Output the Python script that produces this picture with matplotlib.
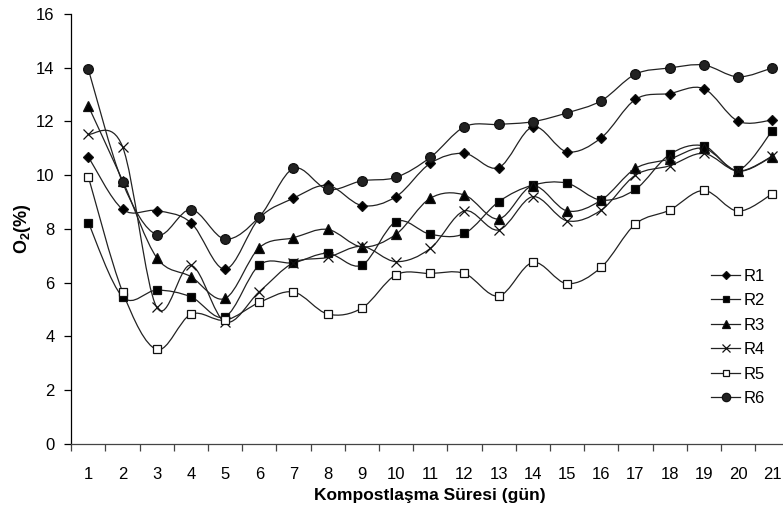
import numpy as np
import matplotlib.pyplot as plt
from matplotlib.path import Path
from matplotlib.patches import PathPatch
from matplotlib.lines import Line2D

plt.rcParams['font.family'] = ['Liberation Sans', 'DejaVu Sans']
plt.rcParams['mathtext.fontset'] = 'custom'
plt.rcParams['mathtext.bf'] = 'Liberation Sans:bold'
plt.rcParams['mathtext.rm'] = 'Liberation Sans'

days = list(range(1, 22))
R1 = [10.68, 8.73, 8.68, 8.23, 6.5, 8.4, 9.14, 9.62, 8.87, 9.2, 10.44, 10.81, 10.28, 11.8, 10.87, 11.39, 12.82, 13.04, 13.22, 12.01, 12.05]
R2 = [8.23, 5.47, 5.72, 5.47, 4.73, 6.65, 6.74, 7.09, 6.65, 8.27, 7.8, 7.83, 9.01, 9.63, 9.7, 9.07, 9.47, 10.77, 11.09, 10.19, 11.65]
R3 = [12.57, 9.8, 6.93, 6.22, 5.41, 7.3, 7.67, 7.98, 7.33, 7.8, 9.14, 9.26, 8.37, 9.6, 8.67, 9.07, 10.25, 10.6, 11.0, 10.15, 10.69]
R4 = [11.53, 11.06, 5.08, 6.65, 4.54, 5.66, 6.74, 6.94, 7.35, 6.78, 7.27, 8.67, 7.96, 9.2, 8.3, 8.7, 10.0, 10.35, 10.81, 10.15, 10.7]
R5 = [9.94, 5.66, 3.51, 4.82, 4.6, 5.26, 5.65, 4.83, 5.05, 6.29, 6.34, 6.34, 5.5, 6.75, 5.96, 6.57, 8.18, 8.7, 9.43, 8.66, 9.3]
R6 = [13.94, 9.73, 7.78, 8.72, 7.62, 8.45, 10.25, 9.47, 9.79, 9.92, 10.66, 11.8, 11.89, 11.99, 12.32, 12.77, 13.76, 13.99, 14.1, 13.66, 13.99]

names = ['R1', 'R2', 'R3', 'R4', 'R5', 'R6']
series = [R1, R2, R3, R4, R5, R6]
markers = ['D', 's', '^', 'x', 's', 'o']
msizes = [5, 6, 7, 7, 6, 7]
faces = ['black', 'black', 'black', 'black', 'white', '#222222']


def smooth_path(x, y):
    # excel-like smoothed line: cubic bezier segments, catmull-rom tangents
    x = np.asarray(x, float)
    y = np.asarray(y, float)
    verts = [(x[0], y[0])]
    codes = [Path.MOVETO]
    n = len(x)
    for i in range(n - 1):
        p0 = i - 1 if i > 0 else i
        p3 = i + 2 if i + 2 < n else i + 1
        c1 = (x[i] + (x[i + 1] - x[p0]) / 6, y[i] + (y[i + 1] - y[p0]) / 6)
        c2 = (x[i + 1] - (x[p3] - x[i]) / 6, y[i + 1] - (y[p3] - y[i]) / 6)
        verts += [c1, c2, (x[i + 1], y[i + 1])]
        codes += [Path.CURVE4] * 3
    return Path(verts, codes)


fig = plt.figure(figsize=(7.83, 5.19), dpi=100)
ax = fig.add_axes([0.091, 0.145, 0.917, 0.828])

handles = []
for name, s, m, ms, fc in zip(names, series, markers, msizes, faces):
    ax.add_patch(PathPatch(smooth_path(days, s), facecolor='none', edgecolor='#222222', lw=0.9, zorder=2))
    ax.plot(days, s, ls='none', marker=m, ms=ms, mfc=fc, mec='#111111', mew=0.9, zorder=3)
    handles.append(Line2D([], [], color='#222222', lw=0.9, marker=m, ms=ms - 1, mfc=fc, mec='#111111', mew=0.9))

ax.set_xlim(0.5, 21.5)
ax.set_ylim(0, 16)
ax.set_yticks(range(0, 17, 2))
ax.set_xticks(np.arange(0.5, 21.6, 1))
ax.set_xticklabels([])
ax.set_xticks(days, minor=True)
ax.set_xticklabels([str(d) for d in days], minor=True)
ax.tick_params(axis='x', which='major', direction='out', length=5, width=0.9, color='#444444')
ax.tick_params(axis='x', which='minor', length=0, pad=17, labelsize=12)
ax.tick_params(axis='y', direction='out', length=5, width=0.9, labelsize=12, pad=7)
for sp in ['top', 'right']:
    ax.spines[sp].set_visible(False)
ax.spines['left'].set_linewidth(0.9)
ax.spines['bottom'].set_linewidth(0.9)
ax.spines['bottom'].set_color('#444444')

ax.set_xlabel('Kompostlaşma Süresi (gün)', fontsize=12.5, fontweight='bold', labelpad=4)
ax.set_ylabel(r'$\mathbf{O_2}$(%)', fontsize=13, fontweight='bold', labelpad=2)

fig.legend(handles, names, loc='upper left', bbox_to_anchor=(0.9, 0.495), frameon=False,
           fontsize=12, handlelength=1.7, handletextpad=0.25, labelspacing=0.57, borderaxespad=0)

fig.savefig('out.png', dpi=100)
